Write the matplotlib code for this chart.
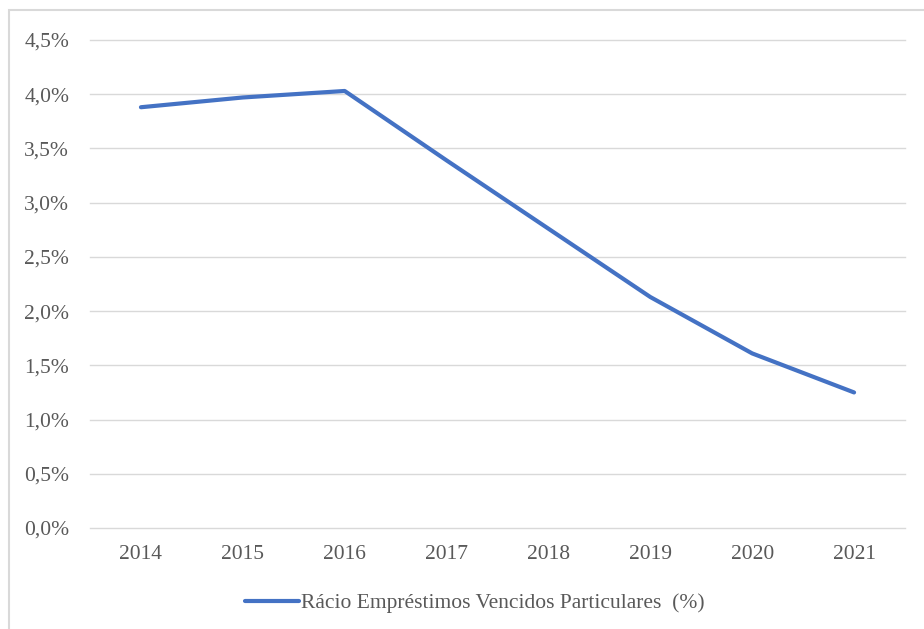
import matplotlib
matplotlib.use("Agg")
import matplotlib.pyplot as plt
from matplotlib.patches import Rectangle
from matplotlib.ticker import FuncFormatter

years = ["2014", "2015", "2016", "2017", "2018", "2019", "2020", "2021"]
ratio = [3.88, 3.97, 4.03, 3.39, 2.76, 2.13, 1.61, 1.25]
series_name = "Rácio Empréstimos Vencidos Particulares  (%)"
y_ticks = [0.0, 0.5, 1.0, 1.5, 2.0, 2.5, 3.0, 3.5, 4.0, 4.5]

W, H = 924, 629
plt.rcParams['font.family'] = ['Liberation Serif', 'DejaVu Serif']
fig = plt.figure(figsize=(W / 100, H / 100), dpi=100)
fig.patch.set_facecolor('white')

# outer chart border (extends beyond right/bottom edges)
fig.patches.append(Rectangle((9 / W, 1 - 640 / H), (940 - 9) / W, (640 - 10) / H,
                             transform=fig.transFigure, fill=False,
                             edgecolor='#D9D9D9', linewidth=1.5))

ax = fig.add_axes([90 / W, (H - 528) / H, (905 - 90) / W, (528 - 40) / H])
x = list(range(len(years)))
ax.plot(x, ratio, color='#4472C4', linewidth=3.0, solid_capstyle='round',
        solid_joinstyle='round', label=series_name, zorder=3)

ax.set_xlim(-0.5, len(years) - 0.5)
ax.set_ylim(0, 4.5)
ax.set_yticks(y_ticks)
ax.yaxis.set_major_formatter(FuncFormatter(lambda v, p: f"{v:.1f}%".replace('.', ',')))
ax.set_xticks(x)
ax.set_xticklabels(years)
ax.grid(axis='y', color='#D9D9D9', linewidth=1.0, zorder=0)
for gl in ax.get_ygridlines():
    gl.set_clip_on(False)
ax.set_axisbelow(True)
for s in ax.spines.values():
    s.set_visible(False)
ax.tick_params(axis='both', length=0, labelsize=15.5, labelcolor='#595959')
ax.tick_params(axis='y', pad=15)
ax.tick_params(axis='x', pad=12)

leg = fig.legend(loc='center', bbox_to_anchor=(475 / W, 1 - 603 / H),
                 frameon=False, fontsize=15.5, handlelength=2.5,
                 handletextpad=0.12, labelcolor='#595959')

fig.savefig('out.png', dpi=100, facecolor='white')
